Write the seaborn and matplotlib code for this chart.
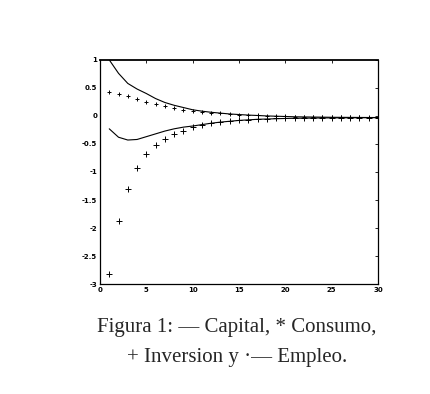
import numpy as np
import pandas as pd
import matplotlib
matplotlib.use('Agg')
import matplotlib.pyplot as plt
import seaborn as sns

# Impulse responses (periods 1..30)
periodos = list(range(1, 31))
capital = [1.0, 0.76, 0.58, 0.48, 0.40, 0.31, 0.24, 0.19, 0.15, 0.11,
           0.085, 0.065, 0.05, 0.035, 0.025, 0.015, 0.008, 0.0, -0.005, -0.01,
           -0.015, -0.018, -0.02, -0.022, -0.024, -0.025, -0.026, -0.027, -0.028, -0.028]
consumo = [0.42, 0.40, 0.35, 0.30, 0.24, 0.21, 0.17, 0.14, 0.11, 0.09,
           0.07, 0.06, 0.05, 0.035, 0.025, 0.015, 0.008, 0.0, -0.005, -0.01,
           -0.015, -0.018, -0.02, -0.022, -0.024, -0.025, -0.026, -0.027, -0.028, -0.028]
inversion = [-2.82, -1.875, -1.30, -0.93, -0.68, -0.52, -0.42, -0.33, -0.26, -0.20,
             -0.16, -0.13, -0.10, -0.09, -0.08, -0.07, -0.06, -0.05, -0.045, -0.04,
             -0.038, -0.036, -0.034, -0.033, -0.032, -0.031, -0.03, -0.03, -0.03, -0.03]
empleo = [-0.23, -0.38, -0.43, -0.42, -0.37, -0.32, -0.27, -0.23, -0.20, -0.18,
          -0.155, -0.13, -0.11, -0.095, -0.08, -0.07, -0.06, -0.055, -0.05, -0.045,
          -0.042, -0.04, -0.038, -0.036, -0.035, -0.034, -0.033, -0.032, -0.031, -0.03]

xticks = [0, 5, 10, 15, 20, 25, 30]
xticklabels = ['0', '5', '10', '15', '20', '25', '30']
yticks = [-3, -2.5, -2, -1.5, -1, -0.5, 0, 0.5, 1]
yticklabels = ['-3', '-2.5', '-2', '-1.5', '-1', '-0.5', '0', '0.5', '1']

caption1 = 'Figura 1: \u2014 Capital, * Consumo,'
caption2 = '+ Inversion y \u00b7\u2014 Empleo.'

df = pd.DataFrame({'t': periodos, 'capital': capital, 'consumo': consumo,
                   'inversion': inversion, 'empleo': empleo})

sns.set_style('white')

fig = plt.figure(figsize=(4.31, 3.94), dpi=100)
ax = fig.add_axes([0.232, 0.279, 0.645, 0.569])

sns.lineplot(data=df, x='t', y='capital', color='black', lw=0.8, ax=ax)
sns.lineplot(data=df, x='t', y='empleo', color='black', lw=0.8, ax=ax)
sns.scatterplot(data=df, x='t', y='consumo', marker='+', color='black',
                s=12, linewidth=0.7, ax=ax)
sns.scatterplot(data=df, x='t', y='inversion', marker='+', color='black',
                s=18, linewidth=0.7, ax=ax)

ax.set_xlim(0, 30)
ax.set_ylim(-3, 1)
ax.set_xticks(xticks)
ax.set_xticklabels(xticklabels, fontweight='bold')
ax.set_yticks(yticks)
ax.set_yticklabels(yticklabels, fontweight='bold')
ax.set_xlabel('')
ax.set_ylabel('')
ax.tick_params(direction='in', length=2.5, width=0.6, labelsize=5,
               top=True, right=True, pad=2, colors='black')
for sp in ax.spines.values():
    sp.set_color('black')
    sp.set_linewidth(0.9)
ax.spines['top'].set_linewidth(1.3)

fig.text(0.55, 0.17, caption1, ha='center', va='center',
         fontsize=15, family=['Liberation Serif', 'DejaVu Serif'])
fig.text(0.55, 0.092, caption2, ha='center', va='center',
         fontsize=15, family=['Liberation Serif', 'DejaVu Serif'])

fig.savefig('out.png', dpi=100)
